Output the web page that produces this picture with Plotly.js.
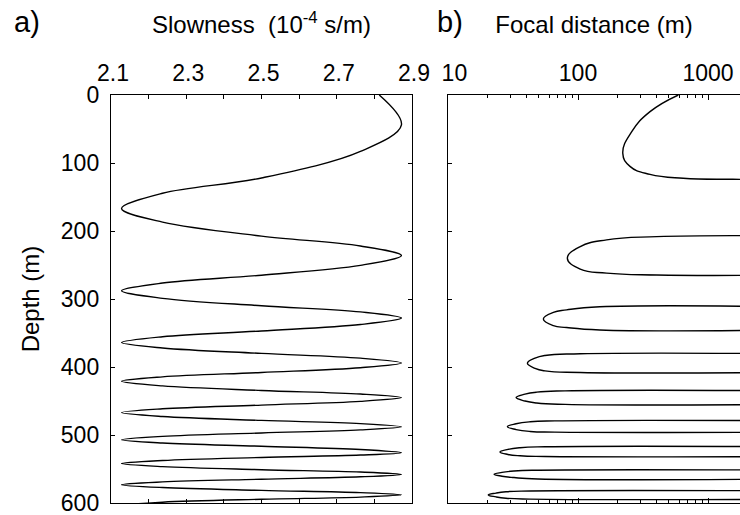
<!DOCTYPE html>
<html>
<head>
<meta charset="utf-8">
<script src="https://cdn.plot.ly/plotly-3.0.1.min.js"></script>
<style>
  html, body { margin: 0; padding: 0; background: #fff; overflow: hidden; }
  #chart { width: 740px; height: 515px; }
</style>
</head>
<body>
<div id="chart"></div>
<script>
// Panel a: slowness profile versus depth (extrema, inflections and shoulders of each swing)
const slowDepth = [0, 44, 83, 122, 144.5, 167, 187, 207.5, 222, 236, 250.5, 265, 276.5, 288,
                   299, 310, 319, 328, 337.5, 347, 355.5, 364, 372, 380, 387, 394, 401, 408,
                   414.5, 421, 427.8, 434.5, 439.8, 445, 450.5, 456, 461.5, 467, 472.8, 478.5,
                   483.3, 488, 492.5, 497, 502, 507, 511.8, 516.5, 521.3, 526, 529.5, 533,
                   537.5, 542, 546.5, 551, 554.5, 558, 561.5, 565, 569, 573, 577.3, 581.5,
                   584.8, 588, 591.3, 594.5, 598.8, 603];
const slowness  = [2.813, 2.872, 2.763, 2.5, 2.237, 2.128, 2.237, 2.5, 2.763, 2.872, 2.763, 2.5, 2.237, 2.128,
                   2.237, 2.5, 2.763, 2.872, 2.763, 2.5, 2.237, 2.128, 2.237, 2.5, 2.763, 2.872, 2.763, 2.5,
                   2.237, 2.128, 2.237, 2.5, 2.763, 2.872, 2.763, 2.5, 2.237, 2.128, 2.237, 2.5,
                   2.763, 2.872, 2.763, 2.5, 2.237, 2.128, 2.237, 2.5, 2.763, 2.872, 2.763, 2.5,
                   2.237, 2.128, 2.237, 2.5, 2.763, 2.872, 2.763, 2.5, 2.237, 2.128, 2.237, 2.5,
                   2.763, 2.872, 2.763, 2.5, 2.237, 2.128];

// Panel b: focal distance lobes, one per slowness maximum (null separates lobes)
const focalDepth = [
  0, 24.5, 54, 85.8, 105, 116.7, 122.5, 124, 124.3, null,
  207, 208.3, 213, 223, 240, 256, 262, 264.7, 265, null,
  311.2, 311.5, 316, 319.6, 329.4, 339.2, 342, 345.6, 345.9, null,
  380.2, 380.5, 383, 387, 394.6, 402, 405.7, 408, 408.3, null,
  434.8, 435.1, 437, 440, 445, 450, 453, 455, 455.3, null,
  478.9, 479.2, 480.6, 483.5, 487.7, 492, 494.8, 495.8, 496, null,
  517, 517.3, 518.7, 521.2, 525, 528.6, 530.6, 531.6, 531.8, null,
  551.5, 551.8, 553, 555, 557.8, 560.6, 562.6, 564.7, 565, null,
  582, 582.3, 583.4, 585.4, 588.2, 591, 593, 594.3, 594.6
];
const focalDist = [
  591, 358, 259, 221, 251, 358, 644, 1550, 3000, null,
  3000, 403, 166, 104, 82.8, 104, 166, 403, 3000, null,
  3000, 147, 81.8, 64.6, 54.1, 64.6, 81.8, 147, 3000, null,
  3000, 104, 55.7, 46.7, 40.8, 46.7, 55.7, 104, 3000, null,
  3000, 79.4, 48.1, 39.1, 33.4, 39.1, 48.1, 79.4, 3000, null,
  3000, 66.5, 42.8, 33.4, 28.6, 33.4, 42.8, 66.5, 3000, null,
  3000, 55.7, 35.8, 28.9, 25.1, 28.9, 35.8, 55.7, 3000, null,
  3000, 49.2, 32.2, 26, 22.6, 26, 32.2, 49.2, 3000, null,
  3000, 42.8, 27.9, 23.4, 20.4, 23.4, 27.9, 42.8, 3000
];

// Axis ticks
const depthTicks = [0, 100, 200, 300, 400, 500, 600];
const slowTickVals = [2.1, 2.3, 2.5, 2.7, 2.9];
const slowMinorVals = [2.2, 2.4, 2.6, 2.8];
const focalTickVals = [10, 100, 1000];
const focalTickText = ['\u200710', '100', '1000'];
const focalMinorVals = [20, 30, 40, 50, 60, 70, 80, 90, 200, 300, 400, 500, 600, 700, 800, 900];

const FONT = 'Liberation Sans, Arial, Helvetica, sans-serif';
const slowLine = { color: '#000', width: 1.4, shape: 'spline', smoothing: 1 };
const focalLine = { color: '#000', width: 1.4, shape: 'spline', smoothing: 1.3 };

const traces = [
  { x: slowness, y: slowDepth, xaxis: 'x', yaxis: 'y', mode: 'lines',
    line: slowLine, hoverinfo: 'skip', showlegend: false },
  { x: focalDist, y: focalDepth, xaxis: 'x2', yaxis: 'y2', mode: 'lines',
    line: focalLine, connectgaps: false, hoverinfo: 'skip', showlegend: false }
];

const tickFont = { family: FONT, size: 23, color: '#000' };
const frame = { showline: true, linecolor: '#000', linewidth: 1.2, showgrid: false, zeroline: false };

const layout = {
  width: 740, height: 515,
  margin: { l: 111, r: 0, t: 95, b: 12 },
  paper_bgcolor: '#fff', plot_bgcolor: '#fff',
  font: { family: FONT, color: '#000' },
  xaxis: Object.assign({}, frame, {
    domain: [0, 0.4785], range: [2.1, 2.9], side: 'top', anchor: 'y',
    tickmode: 'array', tickvals: slowTickVals, tickformat: '.1f',
    ticks: 'inside', ticklen: 4, tickwidth: 1, tickcolor: '#000', mirror: 'allticks',
    minor: { tickmode: 'array', tickvals: slowMinorVals, ticks: 'inside', ticklen: 4, tickwidth: 1, tickcolor: '#000', showgrid: false },
    tickfont: tickFont, ticklabelstandoff: 4, ticklabelshift: 2,
    title: { text: 'Slowness\u00a0 (10<sup>-4</sup> s/m)', font: { family: FONT, size: 24 }, standoff: 19 }
  }),
  yaxis: Object.assign({}, frame, {
    domain: [0, 1], range: [600, 0], anchor: 'x',
    tickmode: 'array', tickvals: depthTicks, ticklabeloverflow: 'allow',
    ticks: 'inside', ticklen: 4, tickwidth: 1, tickcolor: '#000', mirror: 'allticks',
    tickfont: tickFont, ticklabelstandoff: 6,
    title: { text: 'Depth (m)', font: { family: FONT, size: 24 }, standoff: 14 }
  }),
  xaxis2: Object.assign({}, frame, {
    type: 'log', domain: [0.5358, 1], range: [1, 3.246], side: 'top', anchor: 'y2',
    tickmode: 'array', tickvals: focalTickVals, ticktext: focalTickText, ticklabeloverflow: 'allow',
    ticks: 'inside', ticklen: 5, tickwidth: 1, tickcolor: '#000', mirror: 'allticks',
    minor: { tickmode: 'array', tickvals: focalMinorVals, ticks: 'inside', ticklen: 3, tickwidth: 1, tickcolor: '#000', showgrid: false },
    tickfont: tickFont, ticklabelstandoff: 4,
    title: { text: 'Focal distance (m)', font: { family: FONT, size: 24 }, standoff: 19 }
  }),
  yaxis2: Object.assign({}, frame, {
    domain: [0, 1], range: [600, 0], anchor: 'x2',
    tickmode: 'array', tickvals: depthTicks, showticklabels: false,
    ticks: 'inside', ticklen: 4, tickwidth: 1, tickcolor: '#000', mirror: false
  }),
  annotations: [
    { text: 'a)', xref: 'paper', yref: 'paper', x: -0.1335, y: 1.179, xanchor: 'center', yanchor: 'middle',
      showarrow: false, font: { family: FONT, size: 29, color: '#000' } },
    { text: 'b)', xref: 'paper', yref: 'paper', x: 0.539, y: 1.179, xanchor: 'center', yanchor: 'middle',
      showarrow: false, font: { family: FONT, size: 29, color: '#000' } }
  ]
};

Plotly.newPlot('chart', traces, layout, { staticPlot: true, displayModeBar: false });
</script>
</body>
</html>
